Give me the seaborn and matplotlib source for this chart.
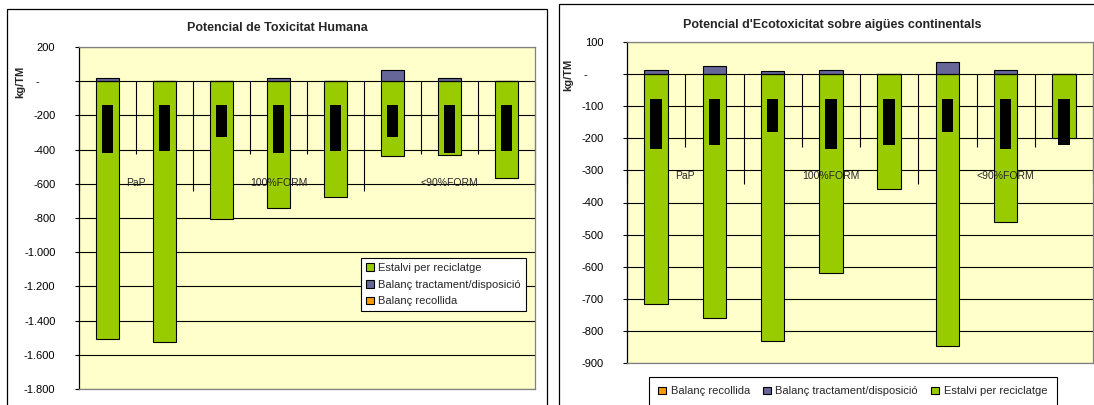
import numpy as np
import pandas as pd
import matplotlib
matplotlib.use('Agg')
import matplotlib.pyplot as plt
import matplotlib.patches as mpatches
from matplotlib.ticker import FuncFormatter
import seaborn as sns

sns.set_style("white")
plt.rcParams['font.family'] = ['Liberation Sans', 'DejaVu Sans']

# escenaris (8 barres) agrupats en tres sistemes de recollida
escenaris = ['PaP-1', 'PaP-2', '100%FORM-1', '100%FORM-2', '100%FORM-3',
             '<90%FORM-1', '<90%FORM-2', '<90%FORM-3']
grups = ['PaP', '100%FORM', '<90%FORM']
mida_grups = [2, 3, 3]

# Potencial de Toxicitat Humana (kg/TM)
hum_recollida = [1, 1, 1, 1, 1, 1, 1, 1]
hum_tractament = [20, 0, 0, 20, 0, 65, 20, 0]
hum_estalvi = [-1508, -1524, -808, -740, -676, -440, -432, -567]
hum_negre_sup = [-140, -140, -140, -140, -140, -140, -140, -140]
hum_negre_inf = [-422, -409, -328, -422, -409, -328, -422, -409]

# Potencial d'Ecotoxicitat sobre aigües continentals (kg/TM)
eco_recollida = [1, 1, 1, 1, 1, 1, 1, 1]
eco_tractament = [12, 23, 9, 12, 0, 37, 12, 0]
eco_estalvi = [-715, -760, -832, -620, -358, -847, -460, -198]
eco_negre_sup = [-77, -77, -77, -77, -77, -77, -77, -77]
eco_negre_inf = [-232, -222, -180, -232, -222, -180, -232, -222]

VERD = '#99CC00'
BLAU = '#666699'
TARONJA = '#FF9900'
FONS = '#FFFFCC'
GRIS = '#808080'

W, H = 1094, 405
fig = plt.figure(figsize=(W / 100, H / 100), dpi=100)


def fmt_eix(v, _):
    if v == 0:
        return '-     '
    return f"{v:,.0f}".replace(',', '.')


def px_en_dades(ax, px):
    # valor y que queda px píxels per sota de la línia de zero
    y0 = ax.transData.transform((0, 0))[1]
    return ax.transData.inverted().transform((0, y0 - px))[1]


def panell(ax, recollida, tractament, estalvi, neg_sup, neg_inf, ymin, ymax, pas):
    df = pd.DataFrame({'escenari': escenaris,
                       'recollida': recollida,
                       'tractament': tractament,
                       'estalvi': estalvi})
    df['positiu'] = df['recollida'] + df['tractament']

    ax.set_facecolor(FONS)
    comuns = dict(x='escenari', width=0.4, saturation=1, errorbar=None,
                  edgecolor='black', linewidth=0.8, ax=ax, zorder=3)
    sns.barplot(data=df, y='estalvi', color=VERD, **comuns)
    sns.barplot(data=df, y='positiu', color=BLAU, **comuns)
    sns.barplot(data=df, y='recollida', color=TARONJA, **comuns)

    pos = np.arange(len(escenaris))
    ax.bar(pos, np.array(neg_inf) - np.array(neg_sup), bottom=neg_sup,
           width=0.2, color='black', edgecolor='black', linewidth=0, zorder=4)

    ax.set_xlim(-0.5, len(escenaris) - 0.5)
    ax.set_ylim(ymin, ymax)
    ax.set_yticks(np.arange(ymin, ymax + 1, pas))
    ax.yaxis.set_major_formatter(FuncFormatter(fmt_eix))
    ax.yaxis.grid(True, color='black', linewidth=0.8)
    ax.set_axisbelow(True)
    ax.set_xlabel('')
    ax.set_ylabel('')
    ax.tick_params(axis='x', length=0, labelbottom=False)
    ax.tick_params(axis='y', left=True, length=3, width=0.8, pad=14,
                   labelsize=8, colors='black')
    for nom, sp in ax.spines.items():
        sp.set_color('black' if nom == 'left' else GRIS)
        sp.set_linewidth(0.9)

    # marques de l'eix de categories (dos nivells)
    curt = px_en_dades(ax, 73)
    llarg = px_en_dades(ax, 110)
    ety = px_en_dades(ax, 102)
    inici = np.cumsum([0] + mida_grups)
    majors = inici - 0.5
    menors = [b for b in np.arange(-0.5, len(escenaris), 1.0) if b not in majors]
    ax.vlines(menors, curt, 0, color='black', linewidth=0.8, zorder=2)
    ax.vlines(majors, llarg, 0, color='black', linewidth=0.8, zorder=2, clip_on=False)
    for g, i0, n in zip(grups, inici[:-1], mida_grups):
        ax.text(i0 + n / 2 - 0.5, ety, g, ha='center', va='center',
                fontsize=7.5, zorder=6)


def legenda(ax, ordre, x, y, **kw):
    colors = {'Balanç recollida': TARONJA,
              'Balanç tractament/disposició': BLAU,
              'Estalvi per reciclatge': VERD}
    handles = [mpatches.Patch(facecolor=colors[k], edgecolor='black', linewidth=0.8)
               for k in ordre]
    leg = ax.legend(handles, ordre, loc='upper left', bbox_to_anchor=(x / W, 1 - y / H),
                    bbox_transform=fig.transFigure, fontsize=8, frameon=True,
                    fancybox=False, edgecolor='black', framealpha=1,
                    borderaxespad=0, handlelength=0.7, handleheight=0.7,
                    handletextpad=0.4, **kw)
    leg.get_frame().set_linewidth(0.8)
    leg.set_zorder(10)


# marcs dels dos gràfics
fig.add_artist(mpatches.Rectangle((7 / W, -0.1), (547 - 7) / W, 1 - 9 / H + 0.1,
                                  transform=fig.transFigure, fill=False,
                                  edgecolor='black', linewidth=0.9))
fig.add_artist(mpatches.Rectangle((559 / W, -0.1), 1.0, 1 - 4 / H + 0.1,
                                  transform=fig.transFigure, fill=False,
                                  edgecolor='black', linewidth=0.9))

ax1 = fig.add_axes([79 / W, 1 - 389 / H, (535 - 79) / W, (389 - 47) / H])
panell(ax1, hum_recollida, hum_tractament, hum_estalvi, hum_negre_sup, hum_negre_inf,
       -1800, 200, 200)
legenda(ax1, ['Estalvi per reciclatge', 'Balanç tractament/disposició', 'Balanç recollida'],
        361, 258, labelspacing=0.6, borderpad=0.45)
fig.text(277 / W, 1 - 28 / H, 'Potencial de Toxicitat Humana', ha='center', va='center',
         fontsize=9, fontweight='bold')
fig.text(20 / W, 1 - 82 / H, 'kg/TM', ha='center', va='center', rotation=90,
         fontsize=8, fontweight='bold')

ax2 = fig.add_axes([627 / W, 1 - 363 / H, (1093 - 627) / W, (363 - 42) / H])
panell(ax2, eco_recollida, eco_tractament, eco_estalvi, eco_negre_sup, eco_negre_inf,
       -900, 100, 100)
legenda(ax2, ['Balanç recollida', 'Balanç tractament/disposició', 'Estalvi per reciclatge'],
        649, 377, ncol=3, columnspacing=1.2, borderpad=0.85)
fig.text(832 / W, 1 - 25 / H, "Potencial d'Ecotoxicitat sobre aigües continentals",
         ha='center', va='center', fontsize=9, fontweight='bold')
fig.text(568 / W, 1 - 75 / H, 'kg/TM', ha='center', va='center', rotation=90,
         fontsize=8, fontweight='bold')

fig.savefig('out.png', dpi=100)
